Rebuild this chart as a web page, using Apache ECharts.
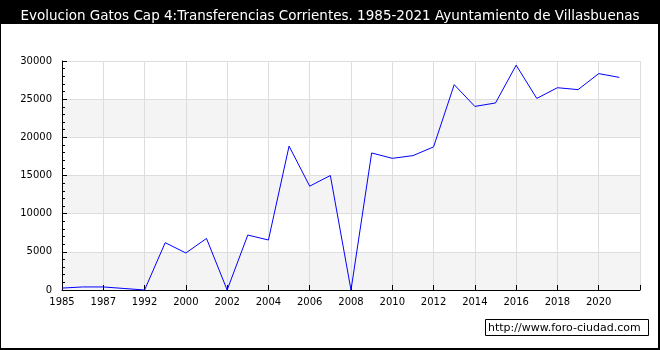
<!DOCTYPE html>
<html>

	<head>
		<meta charset="utf-8" />
		<title>Villasbuenas</title>
		<script type="text/javascript" src="https://cdn.jsdelivr.net/npm/echarts@6/dist/echarts.min.js"></script>
		<style>
			html, body { margin: 0; padding: 0; background: #fff; }
			#wrap { width: 660px; height: 350px; box-sizing: border-box; border: 1px solid #000; border-right-width: 2px; border-bottom-width: 2px; overflow: hidden; }
			#echarts { width: 660px; height: 350px; margin: -1px 0 0 -1px; }
		</style>
	</head>

	<body>
		<div id="wrap">
			<div id="echarts"></div>
		</div>

		<script type="text/javascript">
			var chartTitle = 'Evolucion Gatos Cap 4:Transferencias Corrientes. 1985-2021 Ayuntamiento de Villasbuenas';
			// años (el ultimo vacio deja el hueco de la derecha)
			var years = ['1985', '1986', '1987', '1990', '1992', '1996', '2000', '2001', '2002', '2003', '2004', '2005', '2006', '2007', '2008', '2009', '2010', '2011', '2012', '2013', '2014', '2015', '2016', '2017', '2018', '2019', '2020', '2021', ''];
			var gastos = [250, 400, 400, 200, 0, 6200, 4850, 6750, 0, 7200, 6550, 18850, 13600, 15000, 0, 17950, 17250, 17600, 18750, 26900, 24050, 24500, 29450, 25100, 26500, 26250, 28350, 27850];
			var yTicks = [0, 5000, 10000, 15000, 20000, 25000, 30000];
			var footer = 'http://www.foro-ciudad.com';

			var font = 'DejaVu Sans';

			var option = {
				animation: false,
				title: {
					text: chartTitle,
					left: 'center',
					top: 4,
					textStyle: {
						color: '#fff',
						fontFamily: font,
						fontSize: 13.5,
						fontWeight: 'normal'
					}
				},
				graphic: [{
					type: 'rect',
					z: -1,
					shape: { x: 0, y: 0, width: 660, height: 24 },
					style: { fill: '#000' }
				}, {
					type: 'rect',
					shape: { x: 485.5, y: 319.5, width: 163, height: 16 },
					style: { fill: '#fff', stroke: '#000', lineWidth: 1 }
				}, {
					type: 'text',
					x: 488,
					y: 328,
					style: {
						text: footer,
						fill: '#000',
						fontFamily: font,
						fontSize: 11,
						verticalAlign: 'middle'
					}
				}],
				grid: {
					left: 62,
					right: 20,
					top: 61,
					bottom: 60
				},
				xAxis: {
					type: 'category',
					boundaryGap: false,
					data: years,
					axisLine: { lineStyle: { color: '#000', width: 1 } },
					axisTick: { inside: true, length: 5, interval: 1, lineStyle: { color: '#000' } },
					axisLabel: { interval: 1, color: '#000', fontFamily: font, fontSize: 10, margin: 7 },
					splitLine: { show: true, interval: 1, lineStyle: { color: '#ddd' } }
				},
				yAxis: {
					type: 'value',
					min: yTicks[0],
					max: yTicks[yTicks.length - 1],
					interval: yTicks[1] - yTicks[0],
					axisLine: { show: true, lineStyle: { color: '#000', width: 1 } },
					axisTick: { show: true, inside: true, length: 5, lineStyle: { color: '#000' } },
					minorTick: { show: true, splitNumber: 5, length: 3, lineStyle: { color: '#000' } },
					axisLabel: {
						color: '#000', fontFamily: font, fontSize: 10, margin: 10,
						formatter: function (v) { return String(v); }
					},
					splitLine: { lineStyle: { color: '#ddd' } },
					splitArea: { show: true, areaStyle: { color: ['#f4f4f4', '#fff'] } }
				},
				series: [{
					type: 'line',
					data: gastos,
					symbol: 'none',
					lineStyle: { color: '#0000ff', width: 1 }
				}]
			};

			var myCharts = echarts.init(document.getElementById('echarts'));
			myCharts.setOption(option);
		</script>

	</body>

</html>
